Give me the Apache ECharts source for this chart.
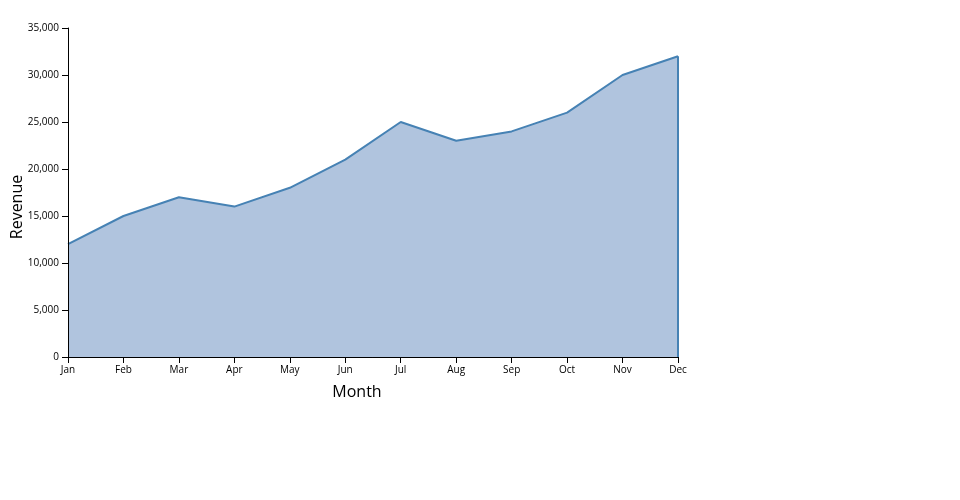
<!DOCTYPE html>
<html><head><meta charset="utf-8">
<script src="https://cdn.jsdelivr.net/npm/echarts@6/dist/echarts.min.js"></script>
<style>html,body{margin:0;padding:0;background:#fff}#c{width:960px;height:500px}</style>
</head><body><div id="c"></div>
<script>
const months = ['Jan','Feb','Mar','Apr','May','Jun','Jul','Aug','Sep','Oct','Nov','Dec'];
const revenue = [12000,15000,17000,16000,18000,21000,25000,23000,24000,26000,30000,32000];
const yMin = 0, yMax = 35000, yStep = 5000;

const chart = echarts.init(document.getElementById('c'), null, {renderer:'canvas'});
const font = '"Open Sans", sans-serif';
const last = months.length - 1;
chart.setOption({
  animation: false,
  grid: {left: 68, right: 282, top: 28, bottom: 143, containLabel: false},
  xAxis: {
    type: 'category', data: months, boundaryGap: false, z: 5,
    axisLine: {lineStyle: {color: '#000', width: 1}},
    axisTick: {alignWithLabel: true, length: 6, lineStyle: {color: '#000'}},
    axisLabel: {color: '#000', fontSize: 10, fontFamily: font, margin: 8, interval: 0},
    splitLine: {show: false}
  },
  yAxis: {
    type: 'value', min: yMin, max: yMax, interval: yStep, z: 5,
    axisLine: {show: true, lineStyle: {color: '#000', width: 1}},
    axisTick: {show: true, length: 6, lineStyle: {color: '#000'}},
    axisLabel: {color: '#000', fontSize: 10, fontFamily: font, margin: 9,
      formatter: v => v.toLocaleString('en-US')},
    splitLine: {show: false}
  },
  series: [{
    type: 'line', data: revenue, symbol: 'none', z: 1,
    lineStyle: {color: '#4682b4', width: 2},
    areaStyle: {color: '#b0c4de', opacity: 1},
    markLine: {
      silent: true, symbol: 'none', label: {show: false},
      lineStyle: {color: '#4682b4', width: 2, type: 'solid'},
      data: [
        [{coord: [months[last], yMin]}, {coord: [months[last], revenue[last]]}]
      ]
    }
  }],
  graphic: [
    {type: 'text', x: 357, y: 392, style: {text: 'Month', font: '16px ' + font, fill: '#000', textAlign: 'center', textVerticalAlign: 'middle'}},
    {type: 'text', x: 17, y: 207, rotation: Math.PI/2, style: {text: 'Revenue', font: '16px ' + font, fill: '#000', textAlign: 'center', textVerticalAlign: 'middle'}}
  ]
});
</script></body></html>
